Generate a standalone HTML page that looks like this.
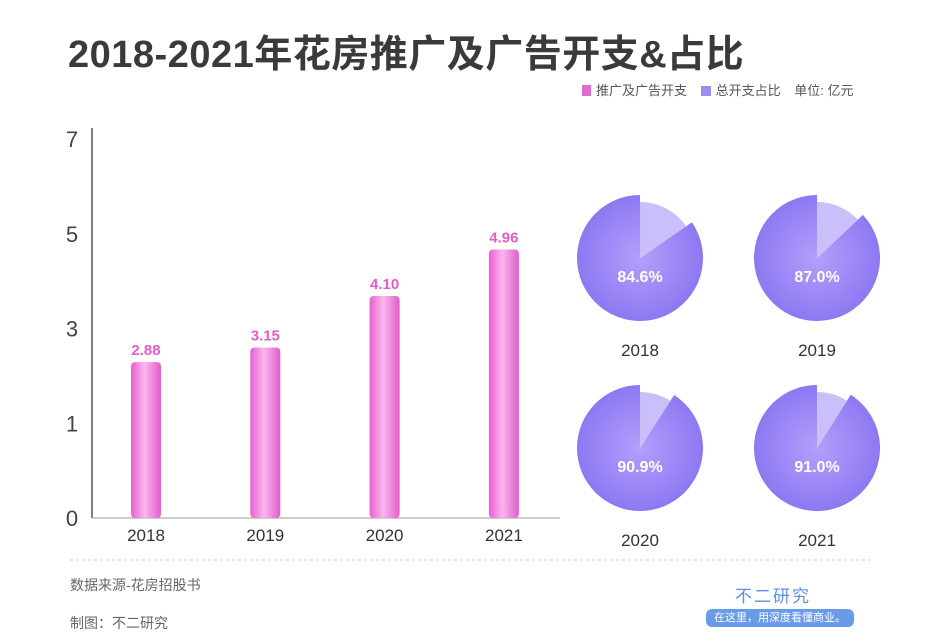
<!DOCTYPE html>
<html><head><meta charset="utf-8"><style>
body{margin:0;background:#fff;font-family:"Liberation Sans","Noto Sans CJK SC",sans-serif;}
#wrap{position:relative;width:940px;height:644px;overflow:hidden;background:#fff}
.t{position:absolute;white-space:nowrap}
</style></head><body>
<div id="wrap">
<div class="t" style="left:68px;top:23px;font-size:38px;font-weight:bold;color:#3a3a3a;letter-spacing:0.5px">2018-2021年花房推广及广告开支&amp;占比</div>
<div class="t" style="left:582px;top:80px;font-size:13px;color:#555">
<span><span style="display:inline-block;width:9px;height:11px;background:#e36bd0;vertical-align:-1px;margin-right:5px"></span>推广及广告开支</span>
<span style="margin-left:10px"><span style="display:inline-block;width:10px;height:10px;background:#9d8cf0;vertical-align:-1px;margin-right:5px"></span>总开支占比</span>
<span style="margin-left:10px">单位: 亿元</span></div>
<svg id="svg" width="940" height="644" style="position:absolute;left:0;top:0">
<defs>
<linearGradient id="bar" x1="0" x2="1"><stop offset="0" stop-color="#e95fcf"/><stop offset="0.45" stop-color="#f9b6ee"/><stop offset="1" stop-color="#e35ccb"/></linearGradient>
<radialGradient id="pie" cx="0.5" cy="0.5" r="0.5"><stop offset="0" stop-color="#b2a0fb"/><stop offset="1" stop-color="#8e78f2"/></radialGradient>
</defs>
<line x1="70" y1="560" x2="870" y2="560" stroke="#ccc" stroke-dasharray="3,3"/>
</svg>
<div class="t" style="left:70px;top:575px;font-size:14px;color:#666">数据来源-花房招股书</div>
<div class="t" style="left:70px;top:613px;font-size:14px;color:#666">制图：不二研究</div>
<div class="t" style="left:735px;top:582px;font-size:17px;color:#5b8fe6;letter-spacing:2px">不二研究</div>
<div class="t" style="left:706px;top:609px;width:148px;height:18px;line-height:18px;border-radius:6px;background:#6a9be8;color:#fff;font-size:11px;text-align:center">在这里，用深度看懂商业。</div>
</div>
<script>
const years=["2018","2019","2020","2021"];
const spend=[2.88,3.15,4.10,4.96];
const ratio=[84.6,87.0,90.9,91.0];
const tickLabels=["0","1","3","5","7"];
const svg=document.getElementById('svg');
const NS='http://www.w3.org/2000/svg';
function mk(t,a){const e=document.createElementNS(NS,t);for(const k in a)e.setAttribute(k,a[k]);svg.appendChild(e);return e;}
const y0=518,yTop=139,vmax=7;
function yS(v){return y0-(v/vmax)*(y0-yTop);}
function xS(i){return 146+i*119.3;}
const ax=mk('line',{x1:92,y1:128,x2:92,y2:518,stroke:'#555','stroke-width':1.5});

const bx=mk('line',{x1:92,y1:518,x2:560,y2:518,stroke:'#999','stroke-width':1});

tickLabels.forEach((l,i)=>{const t=mk('text',{x:72,y:y0-i*94.75+8,'font-size':22,fill:'#444','text-anchor':'middle'});t.textContent=l;
});
spend.forEach((v,i)=>{const x=xS(i),y=yS(v);
const r=mk('rect',{x:x-15,y:y,width:30,height:y0-y,rx:4,fill:'url(#bar)'});

const t=mk('text',{x:x,y:y-7,'font-size':15,'font-weight':'bold',fill:'#e35cc9','text-anchor':'middle'});t.textContent=v.toFixed(2);

const yl=mk('text',{x:x,y:541,'font-size':17,fill:'#333','text-anchor':'middle'});yl.textContent=years[i];
});
const pc=[[640,258],[817,258],[640,448],[817,448]];
ratio.forEach((p,i)=>{const [cx,cy]=pc[i];const R=63,r2=56;
const a=(100-p)/100*2*Math.PI;
const ex=cx+R*Math.sin(a),ey=cy-R*Math.cos(a);
const big=p>50?1:0;
const m=mk('path',{d:`M${cx},${cy} L${ex},${ey} A${R},${R} 0 ${big} 1 ${cx},${cy-R} Z`,fill:'url(#pie)'});

const sx=cx+r2*Math.sin(a),sy=cy-r2*Math.cos(a);
const s=mk('path',{d:`M${cx},${cy} L${cx},${cy-r2} A${r2},${r2} 0 0 1 ${sx},${sy} Z`,fill:'#cbbffb'});

const t=mk('text',{x:cx,y:cy+24,'font-size':16,'font-weight':'bold',fill:'#fff','text-anchor':'middle'});t.textContent=p.toFixed(1)+'%';

const yl=mk('text',{x:cx,y:cy+98,'font-size':17,fill:'#333','text-anchor':'middle'});yl.textContent=years[i];
});
</script>
</body></html>
